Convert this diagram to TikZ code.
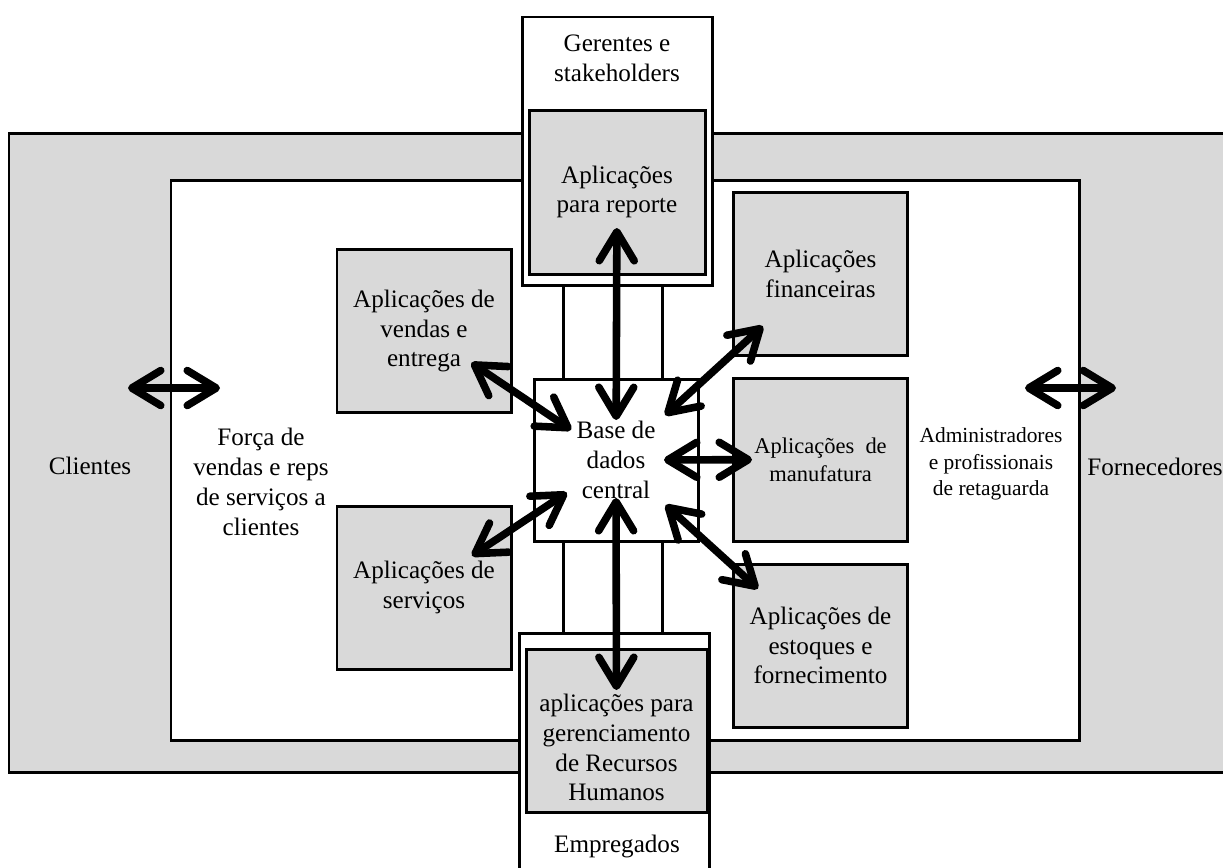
\documentclass[tikz,border=0pt]{standalone}
\usepackage{fontspec}
\setmainfont{Liberation Serif}
\usepackage{tikz}
\usetikzlibrary{arrows.meta, positioning}
\definecolor{erp_gray}{RGB}{217, 217, 217}

\begin{document}
\begin{tikzpicture}[font=\fontsize{14.3}{17}\selectfont,
    frame/.style={draw, line width=1.7pt},
    appbox/.style={frame, fill=erp_gray, minimum width=3.48cm, minimum height=3.26cm,
                   align=center, inner sep=0pt},
    whitebox/.style={frame, fill=white, align=center, inner sep=0pt},
    txt/.style={align=center, inner sep=0pt},
    dbl/.style={line width=4.3pt, >={Straight Barb[length=0.58cm, width=0.70cm, round]}, <->}]

  \useasboundingbox (0,0) rectangle (24.46,-17.34);
  \clip (0,0) rectangle (24.46,-17.34);
  \fill[white] (0,0) rectangle (24.46,-17.34);

  % faixa externa (clientes / fornecedores)
  \fill[erp_gray] (0.18,-2.66) rectangle (25,-15.44);
  \draw[line width=1.7pt] (25,-2.66) -- (0.18,-2.66) -- (0.18,-15.44) -- (25,-15.44);

  \node[whitebox, minimum width=18.16cm, minimum height=11.20cm] (zona) at (12.50,-9.20) {};

  \node[appbox] (vendas)   at (8.48,-6.62)  {Aplicações de\\vendas e\\entrega};
  \node[appbox] (servicos) at (8.48,-11.75) {Aplicações de\\serviços};
  \node[appbox] (financ)   at (16.41,-5.47) {Aplicações\\financeiras};
  \node[appbox, font=\fontsize{12.8}{16}\selectfont]
                (manuf)    at (16.41,-9.19) {Aplicações~~de\\manufatura};
  \node[appbox] (estoques) at (16.41,-12.91) {Aplicações de\\estoques e\\fornecimento};

  \node[whitebox, minimum width=3.80cm, minimum height=5.36cm] (gerentes) at (12.34,-3.02) {};
  \node[appbox, minimum width=3.52cm, minimum height=3.28cm] (reporte) at (12.34,-3.84)
       {Aplicações\\para reporte};
  \node[whitebox, minimum width=3.28cm, minimum height=3.24cm] (base) at (12.32,-9.20)
       {Base de\\dados\\central};
  \node[whitebox, minimum width=3.80cm, minimum height=5.08cm] (empregados) at (12.28,-15.20) {};
  \node[appbox, minimum width=3.62cm, minimum height=3.26cm] (rh) at (12.33,-14.61) {};

  % textos soltos
  \node[txt] (rhTxt)    at (12.33,-14.95) {aplicações para\\gerenciamento\\de Recursos\\Humanos};
  \node[txt] (gerTxt)   at (12.34,-1.16) {Gerentes e\\stakeholders};
  \node[txt] (empTxt)   at (12.34,-16.92) {Empregados};
  \node[txt] (clientes) at (1.80,-9.32) {Clientes};
  \node[txt] (forca)    at (5.22,-9.64) {Força de\\vendas e reps\\de serviços a\\clientes};
  \node[txt, font=\fontsize{12.2}{15.2}\selectfont]
             (admin)    at (19.82,-9.28) {Administradores\\e profissionais\\de retaguarda};
  \node[txt] (fornec)   at (23.10,-9.34) {Fornecedores};

  % dutos
  \foreach \dx in {-1.06, 0.92} {
    \draw[frame] (base.north) ++(\dx,0) coordinate (p) -- (p |- gerentes.south);
    \draw[frame] (base.south) ++(\dx,0) coordinate (q) -- (q |- empregados.north);
  }

  % setas
  \draw[dbl, shorten <=0.80cm, shorten >=0.72cm] (base.center) -- (reporte.center);
  \draw[dbl, shorten <=0.76cm, shorten >=0.81cm] (base.center) -- (rh.center);
  \draw[dbl, shorten <=1.08cm, shorten >=1.14cm] (base.center) -- (vendas.center);
  \draw[dbl, shorten <=1.18cm, shorten >=1.15cm] (base.center) -- (servicos.center);
  \draw[dbl, shorten <=1.33cm, shorten >=1.56cm] (base.center) -- (financ.center);
  \draw[dbl, shorten <=0.96cm, shorten >=1.37cm] (base.center) -- (manuf.center);
  \draw[dbl, shorten <=1.34cm, shorten >=1.69cm] (base.center) -- (estoques.center);

  \coordinate (cliA) at (2.56,-7.76);
  \coordinate (cliB) at (4.40,-7.76);
  \coordinate (forA) at (20.50,-7.76);
  \coordinate (forB) at (22.32,-7.76);
  \draw[dbl] (cliA) -- (cliB);
  \draw[dbl] (forA) -- (forB);
\end{tikzpicture}
\end{document}
